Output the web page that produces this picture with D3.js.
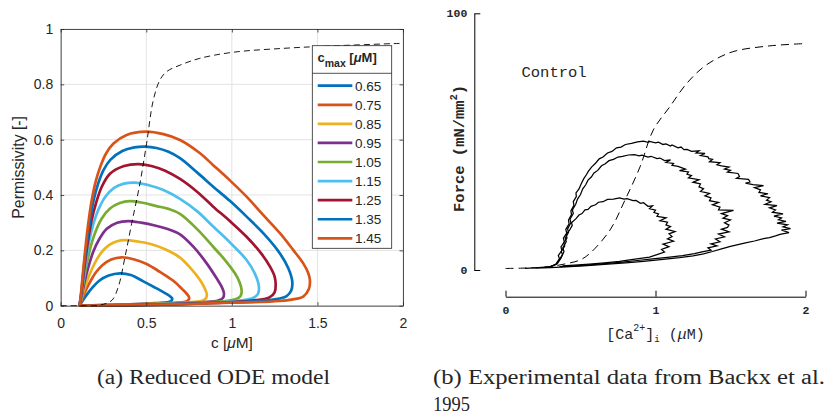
<!DOCTYPE html>
<html>
<head>
<meta charset="utf-8">
<script src="https://cdnjs.cloudflare.com/ajax/libs/d3/7.8.5/d3.min.js"></script>
<style>
  body { margin: 0; background: #fff; }
  text { fill: #262626; }
</style>
</head>
<body>
<svg id="fig" width="831" height="416"></svg>
<script>

// ---------- (a) reduced ODE model: permissivity loops, one per c_max ----------
const cmaxLabels = ["0.65", "0.75", "0.85", "0.95", "1.05", "1.15", "1.25", "1.35", "1.45"];
const loopColors = ["#0072BD", "#D95319", "#EDB120", "#7E2F8E", "#77AC30", "#4DBEEE", "#A2142F", "#0072BD", "#D95319"];

// [c (uM), permissivity]
const loop065 = [[0.11,0],[0.13,0.02],[0.155,0.042],[0.185,0.065],[0.225,0.09],[0.28,0.109],[0.346,0.117],[0.41,0.111],[0.483,0.088],[0.55,0.066],[0.6,0.049],[0.635,0.036],[0.652,0.026],[0.645,0.017],[0.619,0.012],[0.55,0.009],[0.45,0.006],[0.3,0.003],[0.18,0.001],[0.11,0]];
const loop075 = [[0.11,0],[0.128,0.03],[0.15,0.06],[0.175,0.09],[0.205,0.12],[0.245,0.147],[0.295,0.167],[0.356,0.175],[0.43,0.167],[0.502,0.151],[0.58,0.122],[0.658,0.09],[0.71,0.06],[0.738,0.042],[0.751,0.028],[0.742,0.018],[0.716,0.013],[0.63,0.01],[0.5,0.007],[0.35,0.004],[0.2,0.001],[0.11,0]];
const loop085 = [[0.11,0],[0.126,0.035],[0.146,0.075],[0.17,0.115],[0.2,0.155],[0.235,0.19],[0.28,0.218],[0.33,0.233],[0.376,0.237],[0.45,0.232],[0.53,0.222],[0.61,0.204],[0.697,0.174],[0.76,0.135],[0.814,0.093],[0.842,0.062],[0.854,0.04],[0.846,0.025],[0.82,0.017],[0.74,0.012],[0.6,0.008],[0.4,0.004],[0.2,0.001],[0.11,0]];
const loop095 = [[0.11,0],[0.124,0.04],[0.141,0.09],[0.162,0.14],[0.19,0.195],[0.225,0.24],[0.269,0.278],[0.33,0.3],[0.395,0.306],[0.47,0.3],[0.55,0.29],[0.62,0.278],[0.697,0.258],[0.78,0.21],[0.853,0.153],[0.91,0.1],[0.94,0.069],[0.954,0.045],[0.948,0.028],[0.92,0.019],[0.84,0.013],[0.7,0.009],[0.5,0.005],[0.3,0.002],[0.11,0]];
const loop105 = [[0.11,0],[0.122,0.04],[0.137,0.1],[0.155,0.16],[0.178,0.22],[0.205,0.27],[0.24,0.315],[0.288,0.351],[0.345,0.371],[0.405,0.378],[0.48,0.372],[0.56,0.36],[0.63,0.35],[0.697,0.332],[0.8,0.275],[0.891,0.213],[0.96,0.165],[1.018,0.117],[1.045,0.085],[1.057,0.057],[1.052,0.036],[1.025,0.024],[0.95,0.016],[0.8,0.011],[0.6,0.007],[0.4,0.003],[0.2,0.001],[0.11,0]];
const loop115 = [[0.11,0],[0.121,0.04],[0.134,0.1],[0.15,0.17],[0.169,0.24],[0.193,0.3],[0.222,0.35],[0.26,0.393],[0.31,0.425],[0.37,0.441],[0.434,0.445],[0.51,0.436],[0.6,0.418],[0.697,0.386],[0.8,0.34],[0.891,0.286],[0.99,0.228],[1.086,0.165],[1.135,0.115],[1.158,0.069],[1.152,0.042],[1.12,0.027],[1.04,0.018],[0.9,0.012],[0.7,0.008],[0.5,0.004],[0.3,0.001],[0.11,0]];
const loop125 = [[0.11,0],[0.12,0.04],[0.131,0.1],[0.145,0.17],[0.161,0.24],[0.181,0.31],[0.206,0.37],[0.24,0.43],[0.288,0.477],[0.37,0.505],[0.453,0.512],[0.53,0.505],[0.61,0.488],[0.697,0.458],[0.8,0.41],[0.891,0.358],[0.99,0.305],[1.086,0.249],[1.17,0.19],[1.223,0.141],[1.25,0.105],[1.256,0.075],[1.25,0.048],[1.22,0.03],[1.14,0.02],[1.0,0.013],[0.8,0.009],[0.6,0.005],[0.4,0.002],[0.11,0]];
const loop135 = [[0.11,0],[0.119,0.04],[0.129,0.1],[0.141,0.17],[0.155,0.24],[0.172,0.31],[0.192,0.38],[0.218,0.44],[0.25,0.49],[0.29,0.527],[0.36,0.559],[0.43,0.572],[0.492,0.575],[0.56,0.57],[0.63,0.556],[0.697,0.533],[0.8,0.48],[0.891,0.43],[0.99,0.378],[1.086,0.322],[1.19,0.258],[1.281,0.189],[1.33,0.135],[1.353,0.087],[1.347,0.055],[1.32,0.035],[1.25,0.023],[1.1,0.015],[0.9,0.01],[0.7,0.006],[0.5,0.003],[0.3,0.001],[0.11,0]];
const loop145 = [[0.11,0],[0.118,0.04],[0.127,0.1],[0.138,0.17],[0.15,0.24],[0.165,0.315],[0.181,0.38],[0.205,0.45],[0.23,0.5],[0.265,0.55],[0.307,0.585],[0.385,0.617],[0.498,0.629],[0.6,0.62],[0.697,0.599],[0.814,0.551],[0.891,0.508],[0.99,0.452],[1.086,0.394],[1.18,0.33],[1.281,0.262],[1.36,0.2],[1.417,0.153],[1.445,0.12],[1.456,0.093],[1.45,0.06],[1.417,0.033],[1.35,0.022],[1.281,0.017],[1.1,0.012],[0.989,0.011],[0.8,0.007],[0.6,0.004],[0.4,0.002],[0.2,0.0005],[0.11,0]];
const modelLoops = [loop065, loop075, loop085, loop095, loop105, loop115, loop125, loop135, loop145];

// steady-state (dashed) curve
const steadyModel = [[0,0],[0.1,0],[0.2,0],[0.25,0.005],[0.3,0.02],[0.337,0.069],[0.376,0.177],[0.415,0.298],[0.463,0.442],[0.502,0.587],[0.541,0.743],[0.58,0.816],[0.619,0.846],[0.7,0.87],[0.813,0.894],[1.008,0.916],[1.3,0.93],[1.59,0.939],[1.98,0.948]];

const xTicksA = [0, 0.5, 1, 1.5, 2];
const yTicksA = [0, 0.2, 0.4, 0.6, 0.8, 1];

// ---------- (b) experimental data (Backx et al. 1995) ----------
// [Ca2+]i (uM), force (mN/mm^2), traced from the scan
const traceSmall = [[0.30,1.3],[0.34,2.3],[0.36,4.2],[0.38,6],[0.372,7.2],[0.395,9.4],[0.388,10.6],[0.41,12.4],[0.405,13.8],[0.428,15.6],[0.445,17.4],[0.44,18.4],[0.47,20],[0.49,21.4],[0.51,22],[0.53,23.4],[0.55,23.6],[0.57,24.8],[0.60,25.4],[0.62,26.4],[0.65,26.6],[0.68,27.5],[0.72,27.6],[0.76,28.1],[0.79,27.6],[0.81,27.8],[0.85,27.0],[0.87,27.1],[0.90,26.0],[0.92,26.2],[0.95,24.8],[0.98,25.0],[0.96,23.9],[1.00,23.3],[0.99,22.4],[1.02,21.9],[1.01,20.9],[1.07,20.3],[1.03,19.2],[1.08,18.6],[1.07,17.6],[1.10,16.9],[1.07,15.9],[1.13,15.0],[1.09,14.1],[1.11,13.0],[1.08,12.1],[1.12,11.2],[1.05,10.1],[1.09,9.1],[1.04,8.0],[1.06,7.0],[1.01,6.0],[0.96,5.0],[0.90,4.5],[0.84,4.0],[0.76,3.4],[0.66,2.8],[0.56,2.3],[0.46,1.9],[0.38,1.6]];
const traceMid = [[0.30,1.2],[0.345,2.4],[0.37,4.6],[0.39,7.2],[0.382,8.6],[0.405,11],[0.398,12.4],[0.42,14.6],[0.414,16],[0.436,18.4],[0.43,19.8],[0.452,22],[0.446,23.4],[0.468,25.6],[0.48,27.6],[0.50,29.4],[0.515,31.6],[0.535,33.2],[0.55,35],[0.572,36.2],[0.59,37.8],[0.615,38.8],[0.64,40.6],[0.665,41.4],[0.69,42.6],[0.72,43.1],[0.75,44],[0.78,44.3],[0.82,44.8],[0.86,44.9],[0.89,44.5],[0.91,44.7],[0.95,44.0],[0.97,44.3],[1.01,43.4],[1.03,43.6],[1.06,42.6],[1.10,42.9],[1.07,41.9],[1.12,41.5],[1.11,40.8],[1.15,40.4],[1.20,39.3],[1.16,38.7],[1.22,38.2],[1.21,37.3],[1.24,36.8],[1.22,35.9],[1.29,35.2],[1.25,34.2],[1.30,33.5],[1.29,32.4],[1.32,31.7],[1.30,30.6],[1.36,29.8],[1.33,28.9],[1.37,28.1],[1.36,27.0],[1.42,26.3],[1.38,25.4],[1.43,24.5],[1.42,23.4],[1.52,23.2],[1.44,22.0],[1.48,21.2],[1.45,20.2],[1.50,19.5],[1.46,18.4],[1.49,17.5],[1.48,16.6],[1.44,15.9],[1.49,14.9],[1.42,14.0],[1.46,12.9],[1.40,12.1],[1.43,11.0],[1.37,10.2],[1.41,9.4],[1.35,8.6],[1.37,7.7],[1.31,7.1],[1.26,6.4],[1.18,5.6],[1.08,4.9],[0.98,4.3],[0.88,3.7],[0.78,3.1],[0.66,2.5],[0.54,1.9],[0.44,1.5],[0.36,1.3]];
const traceLarge = [[0.13,0.6],[0.22,0.9],[0.30,1.3],[0.335,2.2],[0.36,4.4],[0.352,5.6],[0.375,7.6],[0.37,9],[0.392,11],[0.386,12.4],[0.408,14.4],[0.402,15.8],[0.424,18],[0.42,19.4],[0.44,21.6],[0.436,23],[0.456,25.2],[0.452,26.6],[0.472,28.6],[0.47,30],[0.49,31.6],[0.505,33.6],[0.52,35.4],[0.54,37.2],[0.552,38.4],[0.575,40.2],[0.6,41.6],[0.625,43.3],[0.65,44],[0.68,45.6],[0.71,46.2],[0.74,47.6],[0.77,47.9],[0.80,48.9],[0.84,49.3],[0.88,49.9],[0.92,50.2],[0.95,49.7],[0.96,50.1],[1.0,49.5],[1.02,49.8],[1.05,48.9],[1.07,49.1],[1.10,48.3],[1.11,48.7],[1.15,47.6],[1.17,47.9],[1.19,46.9],[1.21,47.0],[1.24,46.2],[1.29,46.4],[1.27,45.6],[1.33,45.4],[1.30,44.6],[1.35,44.1],[1.355,43.4],[1.38,43.1],[1.36,42.2],[1.43,41.8],[1.41,41.0],[1.44,40.6],[1.49,40.1],[1.46,39.3],[1.50,38.8],[1.48,38.1],[1.55,37.6],[1.56,36.4],[1.54,35.7],[1.62,35.3],[1.63,34.3],[1.60,33.8],[1.65,33.3],[1.72,32.9],[1.66,32.1],[1.70,31.2],[1.69,30.2],[1.75,29.7],[1.70,28.9],[1.76,28.2],[1.74,27.2],[1.77,26.6],[1.73,25.6],[1.81,25.1],[1.76,24.2],[1.80,23.4],[1.78,22.5],[1.85,21.9],[1.79,21.0],[1.84,20.3],[1.82,19.6],[1.87,18.9],[1.81,18.3],[1.88,17.6],[1.85,16.8],[1.90,16.1],[1.84,15.5],[1.89,14.6],[1.83,13.9],[1.80,13.3],[1.76,12.6],[1.72,12.2],[1.66,11.3],[1.60,10.6],[1.55,9.9],[1.50,9.2],[1.44,8.2],[1.38,7.2],[1.32,6.3],[1.25,5.5],[1.16,4.8],[1.05,4.1],[0.92,3.4],[0.80,2.8],[0.66,2.2],[0.52,1.6],[0.40,1.2],[0.30,0.9],[0.20,0.7]];
const steadyExp = [[0,0.6],[0.1,0.7],[0.2,0.9],[0.3,1.4],[0.4,2.4],[0.497,3.9],[0.563,6.5],[0.697,15.6],[0.797,27.3],[0.897,40.2],[0.985,54.5],[1.093,63.4],[1.204,72.4],[1.316,78.9],[1.43,83],[1.538,85.4],[1.76,87.3],[1.993,88.2]];

const xTicksB = [0, 1, 2];
const yTicksB = [0, 100];

const svg = d3.select("#fig");
const helv = "'Liberation Sans', Arial, sans-serif";
const mono = "'Liberation Mono', 'DejaVu Sans Mono', monospace";
const serif = "'Liberation Serif', 'DejaVu Serif', serif";

// ================= panel (a) =================
const x = d3.scaleLinear().domain([0, 2]).range([60.7, 403]);
const y = d3.scaleLinear().domain([0, 1]).range([305.7, 29]);

const gA = svg.append("g");

// grid
gA.selectAll(".vgrid").data(xTicksA).enter().append("line")
    .attr("x1", d => x(d)).attr("x2", d => x(d))
    .attr("y1", y(0)).attr("y2", y(1))
    .attr("stroke", "#e3e3e3").attr("stroke-width", 1);
gA.selectAll(".hgrid").data(yTicksA).enter().append("line")
    .attr("x1", x(0)).attr("x2", x(2))
    .attr("y1", d => y(d)).attr("y2", d => y(d))
    .attr("stroke", "#e3e3e3").attr("stroke-width", 1);

// loops
const lineA = d3.line().x(d => x(d[0])).y(d => y(d[1])).curve(d3.curveCatmullRom.alpha(0.5));
modelLoops.forEach((pts, i) => {
    gA.append("path")
        .attr("d", lineA(pts))
        .attr("fill", "none")
        .attr("stroke", loopColors[i])
        .attr("stroke-width", 2.7)
        .attr("stroke-linejoin", "round");
});

gA.append("path")
    .attr("d", lineA(steadyModel))
    .attr("fill", "none")
    .attr("stroke", "#000")
    .attr("stroke-width", 0.9)
    .attr("stroke-dasharray", "6,4");

// axes (MATLAB style, inward ticks, box)
const axisColor = "#262626";
function styleAxis(g) {
    g.selectAll("path, line").attr("stroke", axisColor).attr("stroke-width", 0.8);
    g.selectAll("text").attr("font-family", helv).attr("font-size", 14).attr("fill", axisColor);
}
gA.append("g").attr("transform", `translate(0,${y(0)})`)
    .call(d3.axisBottom(x).tickValues(xTicksA).tickFormat(d3.format("~g")).tickSize(-3.5).tickSizeOuter(0).tickPadding(12.4))
    .call(styleAxis);
gA.append("g").attr("transform", `translate(0,${y(1)})`)
    .call(d3.axisTop(x).tickValues(xTicksA).tickFormat("").tickSize(-3.5).tickSizeOuter(0))
    .call(styleAxis);
gA.append("g").attr("transform", `translate(${x(0)},0)`)
    .call(d3.axisLeft(y).tickValues(yTicksA).tickFormat(d3.format("~g")).tickSize(-3.5).tickSizeOuter(0).tickPadding(7.5))
    .call(styleAxis);
gA.append("g").attr("transform", `translate(${x(2)},0)`)
    .call(d3.axisRight(y).tickValues(yTicksA).tickFormat("").tickSize(-3.5).tickSizeOuter(0))
    .call(styleAxis);

gA.append("text")
    .attr("x", (x(0) + x(2)) / 2).attr("y", 347.5)
    .attr("text-anchor", "middle")
    .attr("font-family", helv).attr("font-size", 15.4)
    .html("c [<tspan font-style='italic'>μ</tspan>M]");
gA.append("text")
    .attr("transform", `translate(24,${(y(0) + y(1)) / 2}) rotate(-90)`)
    .attr("text-anchor", "middle")
    .attr("font-family", helv).attr("font-size", 15.8)
    .text("Permissivity [-]");

// legend
const leg = gA.append("g");
leg.append("rect")
    .attr("x", 312.3).attr("y", 45.7).attr("width", 79.4).attr("height", 202.6)
    .attr("fill", "#fff").attr("stroke", axisColor).attr("stroke-width", 0.8);
leg.append("line")
    .attr("x1", 312.3).attr("x2", 391.7).attr("y1", 73.3).attr("y2", 73.3)
    .attr("stroke", axisColor).attr("stroke-width", 0.8);
const head = leg.append("text")
    .attr("x", 317.5).attr("y", 61.5)
    .attr("font-family", helv).attr("font-size", 13).attr("font-weight", "bold");
head.append("tspan").text("c");
head.append("tspan").attr("font-size", 10.5).attr("dy", 5.5).text("max");
head.append("tspan").attr("dy", -5.5).text(" [");
head.append("tspan").attr("font-style", "italic").text("μ");
head.append("tspan").text("M]");

const legRow = d3.scaleLinear().domain([0, cmaxLabels.length - 1]).range([85.7, 238.3]);
cmaxLabels.forEach((lab, i) => {
    leg.append("line")
        .attr("x1", 317.7).attr("x2", 352.3)
        .attr("y1", legRow(i)).attr("y2", legRow(i))
        .attr("stroke", loopColors[i]).attr("stroke-width", 2.7);
    leg.append("text")
        .attr("x", 355).attr("y", legRow(i)).attr("dy", "0.36em")
        .attr("font-family", helv).attr("font-size", 13.5).attr("fill", "#000")
        .text(lab);
});

// ================= panel (b) =================
const xr = d3.scaleLinear().domain([0, 2]).range([505.5, 805.5]);
const yr = d3.scaleLinear().domain([0, 100]).range([270, 13.3]);
const gB = svg.append("g");

function styleAxisB(g) {
    g.selectAll("path, line").attr("stroke", "#000").attr("stroke-width", 1);
    g.selectAll("text").attr("font-family", mono).attr("font-size", 11.5)
        .attr("font-weight", "bold").attr("fill", "#111");
}
gB.append("g").attr("transform", "translate(474.3,0)")
    .call(d3.axisLeft(yr).tickValues(yTicksB).tickFormat(d3.format("d")).tickSize(-6).tickSizeOuter(0).tickPadding(7))
    .call(styleAxisB);
gB.append("g").attr("transform", "translate(0,296.7)")
    .call(d3.axisBottom(xr).tickValues(xTicksB).tickFormat(d3.format("d")).tickSize(-6).tickSizeOuter(0).tickPadding(9))
    .call(styleAxisB);

const lineB = d3.line().x(d => xr(d[0])).y(d => yr(d[1]));
[traceSmall, traceMid, traceLarge].forEach(pts => {
    gB.append("path")
        .attr("d", lineB(pts))
        .attr("fill", "none")
        .attr("stroke", "#000")
        .attr("stroke-width", 1.25)
        .attr("stroke-linejoin", "miter");
});
gB.append("path")
    .attr("d", lineB.curve(d3.curveCatmullRom.alpha(0.5))(steadyExp))
    .attr("fill", "none")
    .attr("stroke", "#000")
    .attr("stroke-width", 1)
    .attr("stroke-dasharray", "8,5");

gB.append("text")
    .attr("x", 521.5).attr("y", 76.5)
    .attr("font-family", mono).attr("font-size", 15.5).attr("fill", "#111")
    .text("Control");

const yl = gB.append("text")
    .attr("transform", "translate(464,148.5) rotate(-90)")
    .attr("text-anchor", "middle")
    .attr("font-family", mono).attr("font-size", 15.5).attr("font-weight", "bold").attr("fill", "#111");
yl.append("tspan").text("Force (mN/mm");
yl.append("tspan").attr("font-size", 10).attr("dy", -7).text("2");
yl.append("tspan").attr("dy", 7).text(")");

const xl = gB.append("text")
    .attr("x", 655.5).attr("y", 338.5)
    .attr("text-anchor", "middle")
    .attr("font-family", mono).attr("font-size", 15).attr("fill", "#111");
xl.append("tspan").text("[Ca");
xl.append("tspan").attr("font-size", 10).attr("dy", -8).text("2+");
xl.append("tspan").attr("dy", 8).text("]");
xl.append("tspan").attr("font-size", 9).attr("dy", 3).text("i");
xl.append("tspan").attr("dy", -3).text(" (");
xl.append("tspan").attr("font-style", "italic").text("μ");
xl.append("tspan").text("M)");

// ================= captions =================
svg.append("text")
    .attr("x", 97).attr("y", 384)
    .attr("font-family", serif).attr("font-size", 20.5).attr("fill", "#000")
    .attr("textLength", 233).attr("lengthAdjust", "spacingAndGlyphs")
    .text("(a) Reduced ODE model");
svg.append("text")
    .attr("x", 433).attr("y", 384)
    .attr("font-family", serif).attr("font-size", 20.5).attr("fill", "#000")
    .attr("textLength", 392).attr("lengthAdjust", "spacingAndGlyphs")
    .text("(b) Experimental data from Backx et al.");
svg.append("text")
    .attr("x", 433).attr("y", 411)
    .attr("font-family", serif).attr("font-size", 20.5).attr("fill", "#000")
    .attr("textLength", 37).attr("lengthAdjust", "spacingAndGlyphs")
    .text("1995");

</script>
</body>
</html>
